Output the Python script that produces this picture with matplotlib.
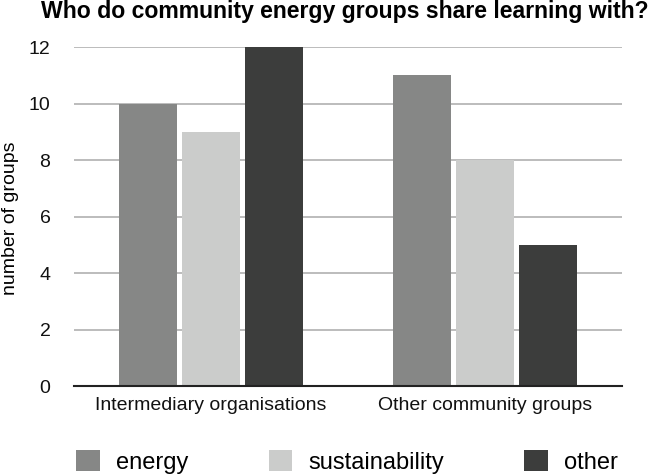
import matplotlib
matplotlib.use("Agg")
import matplotlib.pyplot as plt
import numpy as np

# Datos
categories = ["Intermediary organisations", "Other community groups"]
series = ["energy", "sustainability", "other"]
energy = [10, 11]
sustainability = [9, 8]
other = [12, 5]

COLORS = ["#868786", "#cbcccb", "#3c3d3c"]

plt.rcParams["font.family"] = ["Liberation Sans", "DejaVu Sans"]

fig = plt.figure(figsize=(6.55, 4.76), dpi=100)
ax = fig.add_axes([0.113, 0.189, 0.8366, 0.712])

x = np.arange(len(categories))
width = 0.212
step = 0.231
handles = []
for i, (vals, name) in enumerate(zip([energy, sustainability, other], series)):
    b = ax.bar(x + (i - 1) * step, vals, width, color=COLORS[i], label=name, zorder=3)
    handles.append(b)

ax.set_xlim(-0.5, 1.5)
ax.set_ylim(0, 12)
ax.set_yticks(range(0, 13, 2))
ax.yaxis.grid(True, color="#b0b0b0", linewidth=1.2, zorder=0)
ax.set_axisbelow(True)
for s in ["top", "right", "left"]:
    ax.spines[s].set_visible(False)
ax.spines["bottom"].set_color("#222222")
ax.spines["bottom"].set_linewidth(1.5)
ax.spines["bottom"].set_zorder(4)
ax.tick_params(axis="both", length=0, labelsize=14, colors="#111111")
ax.tick_params(axis="y", pad=17)
ax.tick_params(axis="x", pad=8)
ax.set_xticks(x)
ax.set_xticklabels(categories)

# etiqueta eje y (como texto de figura para que no se corte)
fig.text(0.003, 1 - 218 / 476, "number of groups", rotation=90, ha="left", va="center",
         fontsize=14)

fig.text(0.527, 0.975, "Who do community energy groups share learning with?",
         ha="center", va="center", fontsize=16.6, fontweight="bold")

fig.legend(handles=handles, labels=series, loc="center", bbox_to_anchor=(0.530, 0.03),
           ncol=3, frameon=False, fontsize=17, handlelength=1.0, handleheight=1.0,
           columnspacing=3.4, handletextpad=0.68, borderpad=0)

plt.savefig("out.png", dpi=100)
